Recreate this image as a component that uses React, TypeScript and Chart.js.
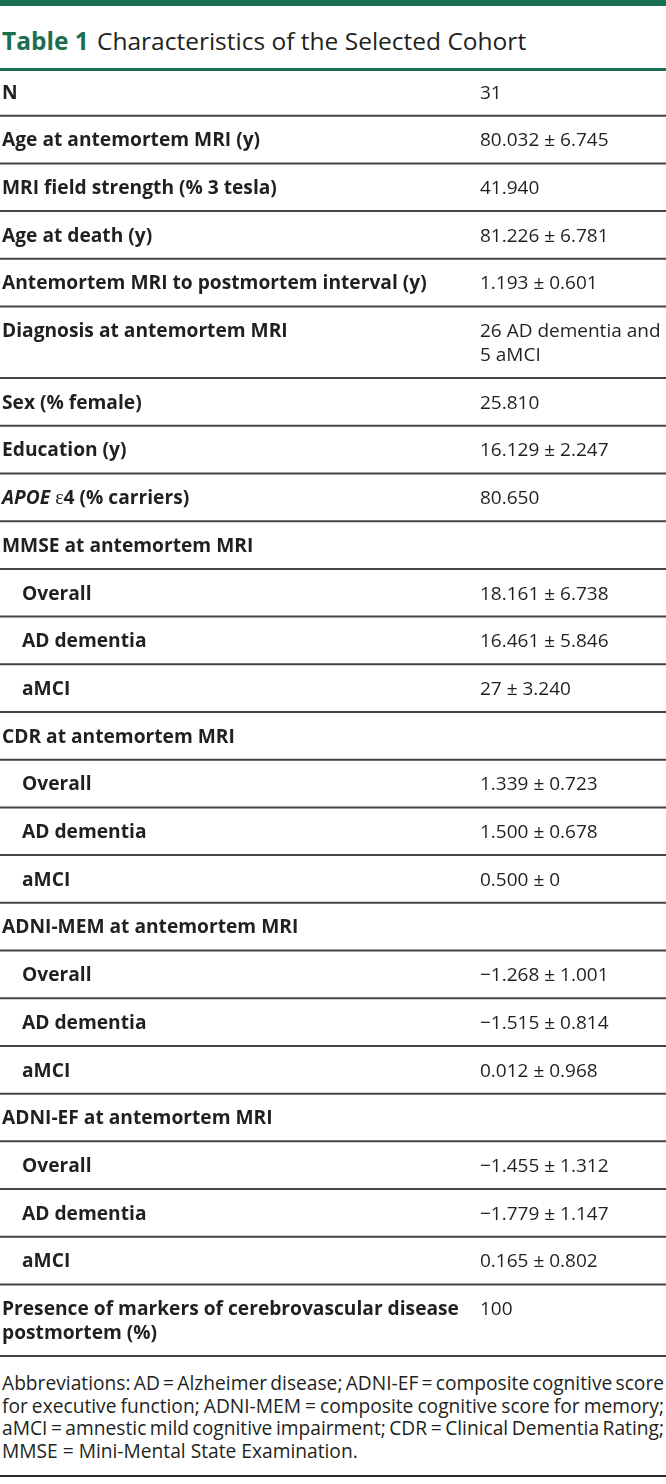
import React, { useEffect, useRef } from 'react';
import { Chart, registerables } from 'chart.js';

Chart.register(...registerables);

const GREEN = '#1b6e50';
const INK = '#231f20';
const RULE = '#434343';

const titleLabel = 'Table 1';
const titleText = 'Characteristics of the Selected Cohort';

// Row labels: *...* = bold italic, {...} = serif glyph, \n = second line
const rowLabels = [
  'N',
  'Age at antemortem MRI (y)',
  'MRI field strength (% 3 tesla)',
  'Age at death (y)',
  'Antemortem MRI to postmortem interval (y)',
  'Diagnosis at antemortem MRI',
  'Sex (% female)',
  'Education (y)',
  '*APOE* {ε}4 (% carriers)',
  'MMSE at antemortem MRI',
  'Overall',
  'AD dementia',
  'aMCI',
  'CDR at antemortem MRI',
  'Overall',
  'AD dementia',
  'aMCI',
  'ADNI-MEM at antemortem MRI',
  'Overall',
  'AD dementia',
  'aMCI',
  'ADNI-EF at antemortem MRI',
  'Overall',
  'AD dementia',
  'aMCI',
  'Presence of markers of cerebrovascular disease\npostmortem (%)',
];

const rowValues = [
  '31',
  '80.032 ± 6.745',
  '41.940',
  '81.226 ± 6.781',
  '1.193 ± 0.601',
  '26 AD dementia and\n5 aMCI',
  '25.810',
  '16.129 ± 2.247',
  '80.650',
  '',
  '18.161 ± 6.738',
  '16.461 ± 5.846',
  '27 ± 3.240',
  '',
  '1.339 ± 0.723',
  '1.500 ± 0.678',
  '0.500 ± 0',
  '',
  '−1.268 ± 1.001',
  '−1.515 ± 0.814',
  '0.012 ± 0.968',
  '',
  '−1.455 ± 1.312',
  '−1.779 ± 1.147',
  '0.165 ± 0.802',
  '100',
];

const rowIndent = [0, 0, 0, 0, 0, 0, 0, 0, 0, 0, 1, 1, 1, 0, 1, 1, 1, 0, 1, 1, 1, 0, 1, 1, 1, 0];

const footnoteLines = [
  'Abbreviations: AD = Alzheimer disease; ADNI-EF = composite cognitive score',
  'for executive function; ADNI-MEM = composite cognitive score for memory;',
  'aMCI = amnestic mild cognitive impairment; CDR = Clinical Dementia Rating;',
  'MMSE = Mini-Mental State Examination.',
];

// Layout constants
const FS_LABEL = 19.2;
const FS_VALUE = 19;
const LABEL_X = 2;
const INDENT_X = 22;
const VALUE_X = 480;

const rowSpans = rowLabels.map((l, i) => {
  const n = Math.max(l.split('\n').length, rowValues[i].split('\n').length);
  return 1 + 0.5 * (n - 1);
});
const rowStarts: number[] = [];
{
  let acc = 0;
  rowSpans.forEach((s) => {
    rowStarts.push(acc);
    acc += s;
  });
}
const totalUnits = rowSpans.reduce((a, b) => a + b, 0);

type Seg = { t: string; f: string };
function parseSegs(line: string): Seg[] {
  const bold = `bold ${FS_LABEL}px "Open Sans"`;
  const segs: Seg[] = [];
  const re = /\*([^*]+)\*|\{([^}]+)\}|([^*{]+)/g;
  let m: RegExpExecArray | null;
  while ((m = re.exec(line))) {
    if (m[1]) segs.push({ t: m[1], f: `italic bold ${FS_LABEL}px "Open Sans"` });
    else if (m[2]) segs.push({ t: m[2], f: `${FS_LABEL + 1}px "Liberation Serif"` });
    else if (m[3]) segs.push({ t: m[3], f: bold });
  }
  return segs;
}

const tablePlugin = {
  id: 'tableRows',
  afterDraw(chart: any) {
    const { ctx, scales } = chart;
    const x = scales.x;
    const y = scales.y;
    ctx.save();
    ctx.textAlign = 'left';
    ctx.textBaseline = 'alphabetic';
    ctx.fillStyle = INK;
    const capShift = 0.357 * FS_VALUE;
    rowLabels.forEach((label, i) => {
      const start = rowStarts[i];
      const lx = x.getPixelForValue(rowIndent[i] ? INDENT_X : LABEL_X);
      label.split('\n').forEach((line, k) => {
        const by = y.getPixelForValue(start + 0.5 + 0.5 * k) + capShift;
        let cx = lx;
        parseSegs(line).forEach((s) => {
          ctx.font = s.f;
          ctx.fillText(s.t, cx, by);
          cx += ctx.measureText(s.t).width;
        });
      });
      ctx.font = `${FS_VALUE}px "Open Sans"`;
      const vx = x.getPixelForValue(VALUE_X);
      rowValues[i].split('\n').forEach((line, k) => {
        if (!line) return;
        const by = y.getPixelForValue(start + 0.5 + 0.5 * k) + capShift;
        ctx.fillText(line, vx, by);
      });
      // bottom rule of the row
      const ry = y.getPixelForValue(start + rowSpans[i]);
      ctx.strokeStyle = RULE;
      ctx.lineWidth = 2;
      ctx.beginPath();
      ctx.moveTo(x.getPixelForValue(0), ry);
      ctx.lineTo(x.getPixelForValue(666), ry);
      ctx.stroke();
    });
    ctx.restore();
  },
};

export default function App() {
  const ref = useRef<HTMLCanvasElement | null>(null);

  useEffect(() => {
    document.body.style.margin = '0';
    const canvas = ref.current;
    if (!canvas) return;
    const chart = new Chart(canvas, {
      type: 'scatter',
      data: {
        datasets: [
          {
            data: rowStarts.map((s) => ({ x: 0, y: s })),
            pointRadius: 0,
            showLine: false,
          },
        ],
      },
      options: {
        animation: false,
        responsive: false,
        events: [],
        layout: { padding: { top: 0, bottom: 2, left: 0, right: 0 } },
        plugins: { legend: { display: false }, tooltip: { enabled: false } },
        scales: {
          x: { type: 'linear', display: false, min: 0, max: 666 },
          y: { type: 'linear', display: false, min: 0, max: totalUnits, reverse: true },
        },
      },
      plugins: [tablePlugin],
    } as any);
    let alive = true;
    const fonts: any = (document as any).fonts;
    if (fonts && fonts.load) {
      Promise.all([
        fonts.load(`bold ${FS_LABEL}px "Open Sans"`),
        fonts.load(`${FS_VALUE}px "Open Sans"`),
        fonts.load(`italic bold ${FS_LABEL}px "Open Sans"`),
      ]).then(() => {
        if (alive) chart.draw();
      });
    }
    return () => {
      alive = false;
      chart.destroy();
    };
  }, []);

  const wrap: React.CSSProperties = {
    position: 'relative',
    width: 666,
    height: 1484,
    fontFamily: '"Open Sans", sans-serif',
    color: INK,
    overflow: 'hidden',
  };

  return (
    <div style={wrap}>
      <div style={{ position: 'absolute', left: 0, top: 0, width: 666, height: 6, background: GREEN }} />
      <div
        style={{
          position: 'absolute',
          left: 2,
          top: 24.5,
          lineHeight: '32px',
          fontSize: 24.5,
          fontWeight: 700,
          color: GREEN,
          whiteSpace: 'nowrap',
        }}
      >
        {titleLabel}
      </div>
      <div
        style={{
          position: 'absolute',
          left: 97,
          top: 24.5,
          lineHeight: '32px',
          fontSize: 24.5,
          fontWeight: 400,
          whiteSpace: 'nowrap',
        }}
      >
        {titleText}
      </div>
      <canvas
        ref={ref}
        width={666}
        height={1290}
        style={{ position: 'absolute', left: 0, top: 68, width: 666, height: 1290 }}
      />
      <div style={{ position: 'absolute', left: 0, top: 68, width: 666, height: 3, background: GREEN }} />
      <div style={{ position: 'absolute', left: 2, top: 1372, width: 662, fontSize: 19.2, lineHeight: '22.6px' }}>
        {footnoteLines.map((l, i) => {
          const last = i === footnoteLines.length - 1;
          return (
            <div
              key={i}
              style={{
                textAlign: 'justify',
                textAlignLast: last ? 'left' : 'justify',
                wordSpacing: last ? 0 : -2.5,
                whiteSpace: 'nowrap',
              }}
            >
              {l}
            </div>
          );
        })}
      </div>
      <div style={{ position: 'absolute', left: 0, top: 1475, width: 666, height: 2, background: '#2a2a2a' }} />
    </div>
  );
}
